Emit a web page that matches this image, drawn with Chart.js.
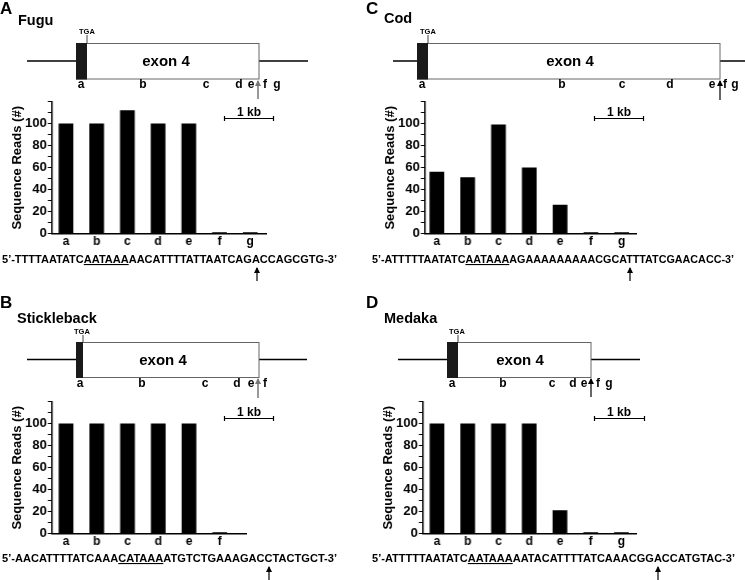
<!DOCTYPE html>
<html>
<head>
<meta charset="utf-8">
<script src="https://cdn.jsdelivr.net/npm/chart.js@4"></script>
<style>
  body { margin: 0; width: 745px; height: 580px; position: relative; background: #fff; overflow: hidden; }
  canvas { position: absolute; }
  svg { position: absolute; left: 0; top: 0; }
  svg text { font-family: "Liberation Sans", Arial, Helvetica, sans-serif; font-weight: bold; fill: #000; }
</style>
</head>
<body>
<canvas id="chartA" width="300" height="180"></canvas>
<canvas id="chartB" width="300" height="180"></canvas>
<canvas id="chartC" width="300" height="180"></canvas>
<canvas id="chartD" width="300" height="180"></canvas>

<svg width="745" height="580">
  <defs>
    <marker id="headGray" viewBox="0 0 6 6" refX="5" refY="3" markerWidth="6" markerHeight="6" orient="auto" markerUnits="userSpaceOnUse">
      <path d="M0,0 L6,3 L0,6 Z" fill="#777"/>
    </marker>
    <marker id="headBlack" viewBox="0 0 6 6" refX="5" refY="3" markerWidth="6" markerHeight="6" orient="auto" markerUnits="userSpaceOnUse">
      <path d="M0,0 L6,3 L0,6 Z" fill="#000"/>
    </marker>
  </defs>

  <!-- A: Fugu -->
  <text x="0" y="14" font-size="17">A</text>
  <text x="18" y="25" font-size="14.5">Fugu</text>
  <g stroke="#000" stroke-width="1.5">
    <line x1="27" y1="61" x2="76" y2="61"/>
    <line x1="259" y1="61" x2="308" y2="61"/>
  </g>
  <rect x="76.5" y="43.5" width="182.5" height="35.5" fill="#fff" stroke="#666"/>
  <rect x="76" y="43" width="11" height="36.5" fill="#1a1a1a"/>
  <line x1="87" y1="35" x2="87" y2="43" stroke="#444"/>
  <text x="79" y="33.5" font-size="7.5">TGA</text>
  <text x="166" y="66" font-size="15" text-anchor="middle">exon 4</text>
  <g text-anchor="middle">
    <text x="81" y="88" style="font-size:12px">a</text><text x="143" y="88" style="font-size:12px">b</text>
    <text x="206" y="88" style="font-size:12px">c</text><text x="239" y="88" style="font-size:12px">d</text>
    <text x="251" y="88" style="font-size:12px">e</text><text x="265" y="88" style="font-size:12px">f</text>
    <text x="277" y="88" style="font-size:12px">g</text>
  </g>
  <line x1="258" y1="99" x2="258" y2="81" stroke="#777" stroke-width="1.5" marker-end="url(#headGray)"/>
  <g stroke="#000" stroke-width="1.2">
    <line x1="224" y1="118.5" x2="274" y2="118.5"/>
    <line x1="224.5" y1="116" x2="224.5" y2="121"/><line x1="273.5" y1="116" x2="273.5" y2="121"/>
  </g>
  <text x="249" y="116" font-size="12" text-anchor="middle">1 kb</text>
  <text x="2" y="263" font-size="11" textLength="335" lengthAdjust="spacingAndGlyphs">5’-TTTTAATATC<tspan text-decoration="underline">AATAAA</tspan>AACATTTTATTAATCAGACCAGCGTG-3’</text>
  <line x1="257" y1="281" x2="257" y2="268" stroke="#000" stroke-width="1.2" marker-end="url(#headBlack)"/>

  <!-- B: Stickleback -->
  <text x="0" y="308" font-size="17">B</text>
  <text x="17" y="323" font-size="14.5">Stickleback</text>
  <g stroke="#000" stroke-width="1.5">
    <line x1="27" y1="359.5" x2="76" y2="359.5"/>
    <line x1="259" y1="359.5" x2="307" y2="359.5"/>
  </g>
  <rect x="76.5" y="342.5" width="182.5" height="35" fill="#fff" stroke="#666"/>
  <rect x="76" y="342" width="7" height="36" fill="#1a1a1a"/>
  <line x1="83" y1="335" x2="83" y2="342" stroke="#444"/>
  <text x="74" y="334" font-size="7.5">TGA</text>
  <text x="163" y="365" font-size="15" text-anchor="middle">exon 4</text>
  <g text-anchor="middle">
    <text x="80" y="387" style="font-size:12px">a</text><text x="142" y="387" style="font-size:12px">b</text>
    <text x="205" y="387" style="font-size:12px">c</text><text x="237" y="387" style="font-size:12px">d</text>
    <text x="251" y="387" style="font-size:12px">e</text><text x="265" y="387" style="font-size:12px">f</text>
  </g>
  <line x1="258" y1="398" x2="258" y2="379" stroke="#777" stroke-width="1.5" marker-end="url(#headGray)"/>
  <g stroke="#000" stroke-width="1.2">
    <line x1="224" y1="418.5" x2="274" y2="418.5"/>
    <line x1="224.5" y1="416" x2="224.5" y2="421"/><line x1="273.5" y1="416" x2="273.5" y2="421"/>
  </g>
  <text x="249" y="416" font-size="12" text-anchor="middle">1 kb</text>
  <text x="2" y="562" font-size="11" textLength="335" lengthAdjust="spacingAndGlyphs">5’-AACATTTTATCAAA<tspan text-decoration="underline">CATAAA</tspan>ATGTCTGAAAGACCTACTGCT-3’</text>
  <line x1="269" y1="580" x2="269" y2="567" stroke="#000" stroke-width="1.2" marker-end="url(#headBlack)"/>

  <!-- C: Cod -->
  <text x="366" y="14" font-size="17">C</text>
  <text x="384" y="23" font-size="14.5">Cod</text>
  <g stroke="#000" stroke-width="1.5">
    <line x1="393" y1="61" x2="417" y2="61"/>
    <line x1="720" y1="61" x2="745" y2="61"/>
  </g>
  <rect x="417.5" y="43.5" width="302.5" height="35.5" fill="#fff" stroke="#666"/>
  <rect x="417" y="43" width="11" height="36.5" fill="#1a1a1a"/>
  <line x1="428" y1="35" x2="428" y2="43" stroke="#444"/>
  <text x="420" y="33.5" font-size="7.5">TGA</text>
  <text x="570" y="66" font-size="15" text-anchor="middle">exon 4</text>
  <g text-anchor="middle">
    <text x="422" y="88" style="font-size:12px">a</text><text x="562" y="88" style="font-size:12px">b</text>
    <text x="622" y="88" style="font-size:12px">c</text><text x="670" y="88" style="font-size:12px">d</text>
    <text x="712" y="88" style="font-size:12px">e</text><text x="725" y="88" style="font-size:12px">f</text>
    <text x="735" y="88" style="font-size:12px">g</text>
  </g>
  <line x1="720" y1="100" x2="720" y2="81" stroke="#000" stroke-width="1.2" marker-end="url(#headBlack)"/>
  <g stroke="#000" stroke-width="1.2">
    <line x1="594" y1="118.5" x2="644" y2="118.5"/>
    <line x1="594.5" y1="116" x2="594.5" y2="121"/><line x1="643.5" y1="116" x2="643.5" y2="121"/>
  </g>
  <text x="619" y="116" font-size="12" text-anchor="middle">1 kb</text>
  <text x="372" y="263" font-size="11" textLength="362" lengthAdjust="spacingAndGlyphs">5’-ATTTTTAATATC<tspan text-decoration="underline">AATAAA</tspan>AGAAAAAAAAACGCATTTATCGAACACC-3’</text>
  <line x1="630" y1="281" x2="630" y2="268" stroke="#000" stroke-width="1.2" marker-end="url(#headBlack)"/>

  <!-- D: Medaka -->
  <text x="366" y="308" font-size="17">D</text>
  <text x="384" y="323" font-size="14.5">Medaka</text>
  <g stroke="#000" stroke-width="1.5">
    <line x1="398" y1="359.5" x2="447" y2="359.5"/>
    <line x1="591" y1="359.5" x2="640" y2="359.5"/>
  </g>
  <rect x="447.5" y="342.5" width="143.5" height="35" fill="#fff" stroke="#666"/>
  <rect x="447" y="342" width="11" height="36" fill="#1a1a1a"/>
  <line x1="458" y1="335" x2="458" y2="342" stroke="#444"/>
  <text x="449" y="334" font-size="7.5">TGA</text>
  <text x="520" y="365" font-size="15" text-anchor="middle">exon 4</text>
  <g text-anchor="middle">
    <text x="452" y="387" style="font-size:12px">a</text><text x="503" y="387" style="font-size:12px">b</text>
    <text x="552" y="387" style="font-size:12px">c</text><text x="573" y="387" style="font-size:12px">d</text>
    <text x="584" y="387" style="font-size:12px">e</text><text x="598" y="387" style="font-size:12px">f</text>
    <text x="609" y="387" style="font-size:12px">g</text>
  </g>
  <line x1="591" y1="397" x2="591" y2="379" stroke="#000" stroke-width="1.2" marker-end="url(#headBlack)"/>
  <g stroke="#000" stroke-width="1.2">
    <line x1="594" y1="418.5" x2="645" y2="418.5"/>
    <line x1="594.5" y1="416" x2="594.5" y2="421"/><line x1="644.5" y1="416" x2="644.5" y2="421"/>
  </g>
  <text x="619" y="416" font-size="12" text-anchor="middle">1 kb</text>
  <text x="372" y="562" font-size="11" textLength="363" lengthAdjust="spacingAndGlyphs">5’-ATTTTTAATATC<tspan text-decoration="underline">AATAAA</tspan>AATACATTTTATCAAACGGACCATGTAC-3’</text>
  <line x1="658" y1="580" x2="658" y2="567" stroke="#000" stroke-width="1.2" marker-end="url(#headBlack)"/>
</svg>

<script>
// read counts per site, a..g
const sitesA = ['a', 'b', 'c', 'd', 'e', 'f', 'g'];
const readsA = [100, 100, 112, 100, 100, 1, 1];      // Fugu

const sitesB = ['a', 'b', 'c', 'd', 'e', 'f'];
const readsB = [100, 100, 100, 100, 100, 1];         // Stickleback

const sitesC = ['a', 'b', 'c', 'd', 'e', 'f', 'g'];
const readsC = [56, 51, 99, 60, 26, 1, 1];           // Cod

const sitesD = ['a', 'b', 'c', 'd', 'e', 'f', 'g'];
const readsD = [100, 100, 100, 100, 21, 1, 1];       // Medaka

const yTicks = [0, 20, 40, 60, 80, 100];

Chart.defaults.font.family = '"Liberation Sans", Arial, Helvetica, sans-serif';
Chart.defaults.font.weight = 'bold';
Chart.defaults.color = '#000';

function makeChart(id, sites, reads, area, xMin, xMax) {
    const canvas = document.getElementById(id);
    const chart = new Chart(canvas, {
        type: 'bar',
        data: {
            datasets: [{
                data: reads.map((v, i) => ({ x: i, y: v })),
                backgroundColor: '#000',
                borderWidth: 0,
                barThickness: 14
            }]
        },
        options: {
            responsive: false,
            maintainAspectRatio: false,
            animation: false,
            layout: { padding: 0 },
            plugins: { legend: { display: false }, tooltip: { enabled: false } },
            scales: {
                x: {
                    type: 'linear',
                    bounds: 'data',
                    offset: false,
                    min: xMin,
                    max: xMax,
                    afterBuildTicks: s => {
                        s.ticks = sites.map((c, i) => ({ value: i }));
                        s.min = xMin;
                        s.max = xMax;
                    },
                    ticks: {
                        autoSkip: false, maxRotation: 0, padding: 1,
                        font: { size: 12, weight: 'bold' },
                        callback: v => sites[v]
                    },
                    grid: { display: false, drawTicks: false },
                    border: { color: '#000', width: 1.5 }
                },
                y: {
                    min: 0,
                    max: 120,
                    ticks: {
                        stepSize: 10, autoSkip: false, padding: 1,
                        font: { size: 13, weight: 'bold' },
                        callback: v => yTicks.includes(v) ? v : ''
                    },
                    grid: { drawOnChartArea: false, drawTicks: true, tickLength: 4, color: '#000', lineWidth: 1 },
                    border: { color: '#000', width: 1.5 },
                    title: {
                        display: true, text: 'Sequence Reads (#)',
                        font: { size: 13, weight: 'bold', lineHeight: 1 },
                        padding: { top: 0, bottom: 0 }
                    }
                }
            }
        }
    });

    // size the canvas so the plot area lands where the figure has it
    let ca = chart.chartArea;
    const w = canvas.width + (area.right - area.left) - (ca.right - ca.left);
    const h = canvas.height + (area.bottom - area.top) - (ca.bottom - ca.top);
    chart.resize(w, h);
    ca = chart.chartArea;
    canvas.style.left = (area.left - ca.left) + 'px';
    canvas.style.top = (area.top - ca.top) + 'px';
    return chart;
}

makeChart('chartA', sitesA, readsA, { left: 52, right: 267, top: 102, bottom: 234 }, -0.46, 6.57);
makeChart('chartB', sitesB, readsB, { left: 52, right: 247, top: 402, bottom: 534 }, -0.46, 5.91);
makeChart('chartC', sitesC, readsC, { left: 425, right: 637, top: 102, bottom: 234 }, -0.39, 6.52);
makeChart('chartD', sitesD, readsD, { left: 423, right: 637, top: 402, bottom: 534 }, -0.46, 6.53);
</script>
</body>
</html>
